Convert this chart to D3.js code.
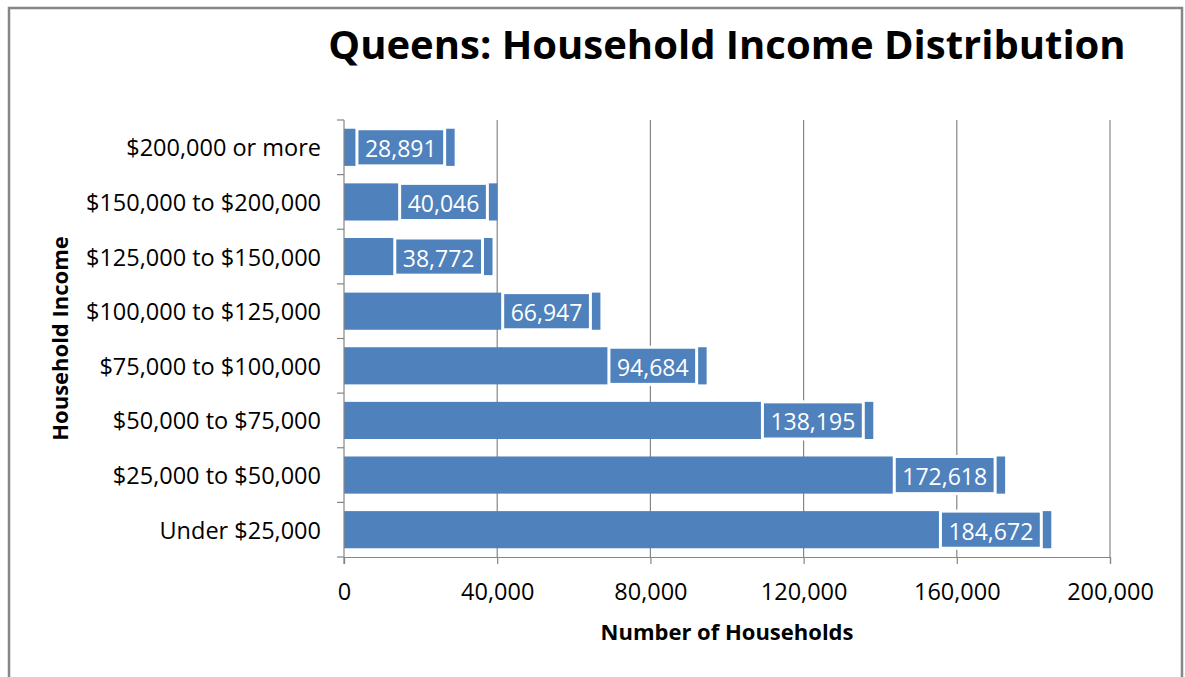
<!DOCTYPE html>
<html>
<head>
<meta charset="utf-8">
<script src="https://cdn.jsdelivr.net/npm/d3@7"></script>
<style>
  html, body { margin: 0; padding: 0; background: #fff; }
  svg { display: block; font-family: "Open Sans", "Noto Sans", sans-serif; }
</style>
</head>
<body>
<script>
// Household income brackets, top to bottom as drawn
const categories = [
  "$200,000 or more",
  "$150,000 to $200,000",
  "$125,000 to $150,000",
  "$100,000 to $125,000",
  "$75,000 to $100,000",
  "$50,000 to $75,000",
  "$25,000 to $50,000",
  "Under $25,000"
];
// Number of households in each bracket
const households = [28891, 40046, 38772, 66947, 94684, 138195, 172618, 184672];
// x-axis tick values
const xTicks = [0, 40000, 80000, 120000, 160000, 200000];

const W = 1185, H = 677;
const plot = { left: 344, right: 1110, top: 120, bottom: 557 };
const barColor = "#4F81BD";
const gridColor = "#868686";

const svg = d3.select("body").append("svg")
  .attr("width", W).attr("height", H);

// outer chart frame
svg.append("rect")
  .attr("x", 9).attr("y", 8)
  .attr("width", 1173).attr("height", 690)
  .attr("fill", "none").attr("stroke", "#868686").attr("stroke-width", 2.5);

const x = d3.scaleLinear().domain([0, 200000]).range([plot.left, plot.right]);
const y = d3.scaleBand().domain(categories).range([plot.top, plot.bottom]).paddingInner(0.32).paddingOuter(0.16);

// vertical gridlines
svg.append("g").selectAll("line")
  .data(xTicks.slice(1))
  .join("line")
  .attr("x1", d => x(d)).attr("x2", d => x(d))
  .attr("y1", plot.top).attr("y2", plot.bottom)
  .attr("stroke", gridColor).attr("stroke-width", 1.2);

// bars
const rows = categories.map((c, i) => ({ cat: c, value: households[i] }));
svg.append("g").selectAll("rect")
  .data(rows)
  .join("rect")
  .attr("x", x(0))
  .attr("y", d => y(d.cat))
  .attr("width", d => x(d.value) - x(0))
  .attr("height", y.bandwidth())
  .attr("fill", barColor);

// value labels in boxes at the inside end of each bar
const fmt = d3.format(",");
const lab = svg.append("g").selectAll("g")
  .data(rows)
  .join("g");
lab.append("text")
  .attr("font-size", 23)
  .attr("fill", "#fff")
  .attr("text-anchor", "end")
  .attr("dominant-baseline", "central")
  .attr("x", d => x(d.value) - 18)
  .attr("y", d => y(d.cat) + y.bandwidth() / 2 + 1)
  .text(d => fmt(d.value));
lab.each(function () {
  const g = d3.select(this);
  const t = g.select("text");
  const w = t.node().getComputedTextLength();
  const d = g.datum();
  g.insert("rect", "text")
    .attr("x", x(d.value) - 10 - w - 16)
    .attr("y", y(d.cat))
    .attr("width", w + 16)
    .attr("height", y.bandwidth())
    .attr("fill", barColor)
    .attr("stroke", "#fff")
    .attr("stroke-width", 3);
});

// x axis
const xAxis = svg.append("g")
  .attr("transform", `translate(0,${plot.bottom})`)
  .call(d3.axisBottom(x).tickValues(xTicks).tickFormat(d3.format(",")).tickSize(7).tickPadding(19));
xAxis.select(".domain").attr("stroke", gridColor).attr("stroke-width", 1.2);
xAxis.selectAll(".tick line").attr("stroke", gridColor).attr("stroke-width", 1.2);
xAxis.selectAll(".tick text").attr("font-size", 23.5).attr("fill", "#000")
  .attr("font-family", "\"Open Sans\", sans-serif");

// y axis: ticks sit at the band boundaries
const yAxis = svg.append("g").attr("transform", `translate(${plot.left},0)`);
yAxis.append("line")
  .attr("x1", 0).attr("x2", 0)
  .attr("y1", plot.top).attr("y2", plot.bottom + 7)
  .attr("stroke", gridColor).attr("stroke-width", 1.2);
const step = (plot.bottom - plot.top) / categories.length;
yAxis.selectAll("line.tk")
  .data(d3.range(categories.length + 1))
  .join("line").attr("class", "tk")
  .attr("x1", -7).attr("x2", 0)
  .attr("y1", i => plot.top + i * step).attr("y2", i => plot.top + i * step)
  .attr("stroke", gridColor).attr("stroke-width", 1.2);
yAxis.selectAll("text")
  .data(categories)
  .join("text")
  .attr("x", -23)
  .attr("y", d => y(d) + y.bandwidth() / 2)
  .attr("text-anchor", "end")
  .attr("dominant-baseline", "central")
  .attr("font-size", 23.5)
  .attr("fill", "#000")
  .text(d => d);

// title
svg.append("text")
  .attr("x", 727).attr("y", 59)
  .attr("text-anchor", "middle")
  .attr("font-size", 40).attr("font-weight", "bold")
  .text("Queens: Household Income Distribution");

// axis titles
svg.append("text")
  .attr("x", 727).attr("y", 640)
  .attr("text-anchor", "middle")
  .attr("font-size", 22).attr("font-weight", "bold")
  .text("Number of Households");

svg.append("text")
  .attr("transform", `translate(68,${(plot.top + plot.bottom) / 2}) rotate(-90)`)
  .attr("text-anchor", "middle")
  .attr("font-size", 22).attr("font-weight", "bold")
  .text("Household Income");
</script>
</body>
</html>
